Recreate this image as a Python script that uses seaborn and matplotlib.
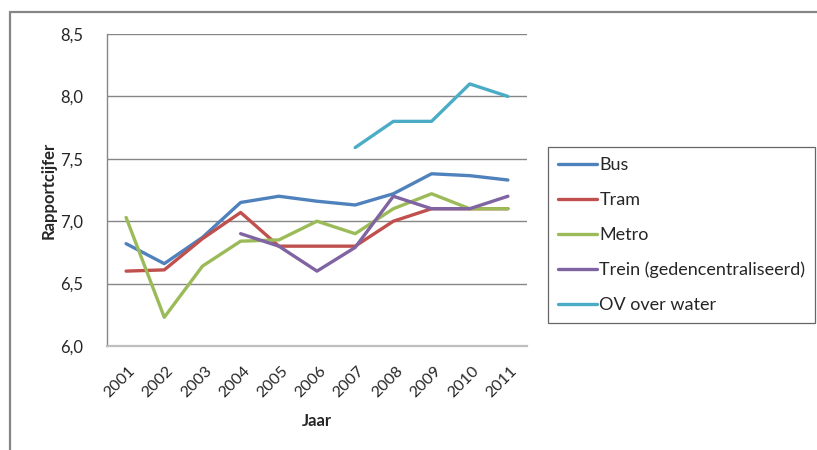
import matplotlib
matplotlib.use("Agg")
import matplotlib.pyplot as plt
import matplotlib.lines as mlines
import seaborn as sns
import pandas as pd
import numpy as np

years = ["2001", "2002", "2003", "2004", "2005", "2006", "2007", "2008", "2009", "2010", "2011"]
bus = [6.82, 6.66, 6.87, 7.15, 7.20, 7.16, 7.13, 7.22, 7.38, 7.365, 7.33]
tram = [6.60, 6.61, 6.86, 7.07, 6.80, 6.80, 6.80, 7.00, 7.10, 7.10, 7.10]
metro = [7.03, 6.23, 6.64, 6.84, 6.85, 7.00, 6.90, 7.10, 7.22, 7.10, 7.10]
trein = [None, None, None, 6.90, 6.80, 6.60, 6.79, 7.20, 7.10, 7.10, 7.20]
ov_water = [None, None, None, None, None, None, 7.59, 7.80, 7.80, 8.10, 8.00]

series_names = ["Bus", "Tram", "Metro", "Trein (gedencentraliseerd)", "OV over water"]
series_values = [bus, tram, metro, trein, ov_water]
colors = ["#4F81BD", "#C0504D", "#9BBB59", "#8064A2", "#4BACC6"]

rows = []
for name, vals in zip(series_names, series_values):
    for i, v in enumerate(vals):
        if v is not None:
            rows.append({"pos": i, "Jaar": years[i], "value": v, "series": name})
df = pd.DataFrame(rows)

sns.set_style("white")
plt.rcParams["font.family"] = ["Lato", "DejaVu Sans"]

fig = plt.figure(figsize=(8.17, 4.5), dpi=100)
ax = fig.add_axes([107/817, 1-346/450, (527-107)/817, (346-34)/450])

sns.lineplot(data=df, x="pos", y="value", hue="series", hue_order=series_names,
             palette=colors, linewidth=2.4, ax=ax, legend=False, sort=True,
             estimator=None)

ax.set_xlim(-0.5, 10.5)
ax.set_ylim(6.0, 8.5)
ax.set_yticks([6.0, 6.5, 7.0, 7.5, 8.0, 8.5])
ax.set_yticklabels(["6,0", "6,5", "7,0", "7,5", "8,0", "8,5"], fontsize=12)
ax.set_xticks(range(len(years)))
ax.set_xticklabels(years, rotation=45, ha="right", rotation_mode="anchor", fontsize=11.5)
ax.tick_params(axis="x", length=0, pad=13)
ax.tick_params(axis="y", length=0, pad=17)
for t in ax.get_xticklabels():
    t.set_transform(t.get_transform() + matplotlib.transforms.ScaledTranslation(2/100, 0, fig.dpi_scale_trans))

ax.grid(axis="y", color="#868686", linewidth=1.0)
ax.set_axisbelow(True)
for s in ["top", "right"]:
    ax.spines[s].set_visible(False)
ax.spines["left"].set_color("#868686")
ax.spines["left"].set_linewidth(1.0)
ax.spines["bottom"].set_color("#bfbfbf")
ax.spines["bottom"].set_linewidth(1.6)

ax.set_xlabel("Jaar", fontsize=12, fontweight="bold", labelpad=9)
ax.set_ylabel("Rapportcijfer", fontsize=12, fontweight="bold", labelpad=3)

handles = [mlines.Line2D([], [], color=c, linewidth=2.4) for c in colors]
leg = fig.legend(handles, series_names, loc="upper left",
                 bbox_to_anchor=(548/817, 1-147/450), borderaxespad=0,
                 fontsize=13, frameon=True, fancybox=False,
                 handlelength=2.15, handletextpad=0.15, labelspacing=1.05,
                 borderpad=0.55)
leg.get_frame().set_edgecolor("#404040")
leg.get_frame().set_linewidth(0.9)

# outer chart border (top and left visible)
fig.add_artist(mlines.Line2D([10/817, 10/817], [0, 1-12/450], color="#868686",
                             linewidth=1.6, transform=fig.transFigure))
fig.add_artist(mlines.Line2D([10/817, 1], [1-12/450, 1-12/450], color="#868686",
                             linewidth=1.6, transform=fig.transFigure))

fig.savefig("out.png", dpi=100)
